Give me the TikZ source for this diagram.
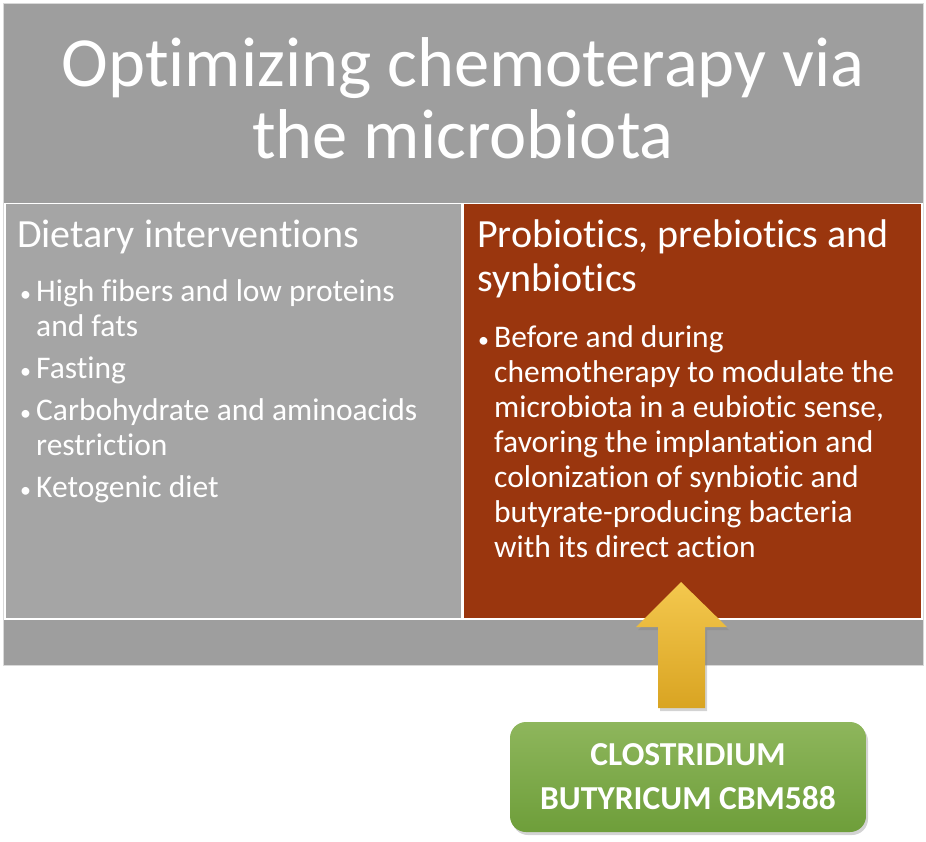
\documentclass[tikz,border=0pt]{standalone}
\usepackage{fontspec}
\setmainfont{Carlito}[Ligatures={NoCommon}]
\usetikzlibrary{positioning,shadows}
\definecolor{frameg}{HTML}{9E9E9E}
\definecolor{paneg}{HTML}{A5A5A5}
\definecolor{rust}{HTML}{9A360E}
\definecolor{goldt}{HTML}{F4C84E}
\definecolor{goldb}{HTML}{D9A422}
\definecolor{leaft}{HTML}{8EB65C}
\definecolor{leafb}{HTML}{6E9E3A}
\newcommand{\blt}{\makebox[16pt][l]{\fontsize{22}{22}\selectfont\textbullet}}
\newcommand{\hng}{\hspace*{16pt}}
% keep t and i apart (no joined ti glyph)
\XeTeXinterchartokenstate=1
\newXeTeXintercharclass\tcls
\newXeTeXintercharclass\icls
\XeTeXcharclass`\t=\tcls
\XeTeXcharclass`\i=\icls
\XeTeXinterchartoks\tcls\icls={\kern0pt}

\begin{document}
\begin{tikzpicture}[x=1pt, y=-1pt, text=white,
  panel/.style={draw=white, line width=1.5pt, anchor=north west, inner sep=0pt},
  head/.style={anchor=north west, align=left, inner sep=0pt, font=\fontsize{40}{44}\selectfont},
  items/.style={anchor=north west, align=left, inner sep=0pt, font=\fontsize{31.5}{35}\selectfont},
  strain/.style={rounded corners=16pt, top color=leaft, bottom color=leafb, minimum width=356pt,
    minimum height=110pt, align=center, font=\fontsize{33.5}{44}\selectfont\bfseries,
    drop shadow={shadow xshift=2pt, shadow yshift=-3pt, opacity=0.35}},
  shadowed/.style={drop shadow={shadow xshift=2pt, shadow yshift=-3pt, opacity=0.35}}
]
\useasboundingbox (0,0) rectangle (926,842);

% ---- frame and title
\node[panel, draw=black!15, line width=1pt, fill=frameg, minimum width=920pt, minimum height=662pt] (frame) at (3,3) {};
\node[align=center, font=\fontsize{70.5}{72}\selectfont] (title) at (463,98) {Optimizing chemoterapy via\\the microbiota};

% ---- two panels
\node[panel, fill=paneg, minimum width=457pt, minimum height=415pt] (diet) at (4,203) {};
\node[panel, fill=rust, minimum width=459pt, minimum height=415pt] (probio) at (462,203) {};

\node[head] (dhead) at (17,220) {Dietary interventions};
\node[items, below=25pt of dhead.south west, anchor=north west, xshift=3pt] (dlist)
  {\blt High fibers and low proteins\\\hng and fats\\[7pt]
   \blt Fasting\\[7pt]
   \blt Carbohydrate and aminoacids\\\hng restriction\\[7pt]
   \blt Ketogenic diet};

\node[head] (phead) at (477,220) {Probiotics, prebiotics and\\synbiotics};
\node[items, below=27pt of phead.south west, anchor=north west, xshift=1pt] (plist)
  {\blt Before and during\\\hng chemotherapy to modulate the\\\hng microbiota in a eubiotic sense,\\
   \hng favoring the implantation and\\\hng colonization of synbiotic and\\
   \hng butyrate-producing bacteria\\\hng with its direct action};

% ---- strain and arrow
\node[strain] (cbm) at (688,777) {CLOSTRIDIUM\\BUTYRICUM CBM588};
\shade[top color=goldt, bottom color=goldb, shadowed]
  (681,582) -- (727,627) -- (705,627) -- (705,708) -- (658,708) -- (658,627) -- (636,627) -- cycle;
\end{tikzpicture}
\end{document}
